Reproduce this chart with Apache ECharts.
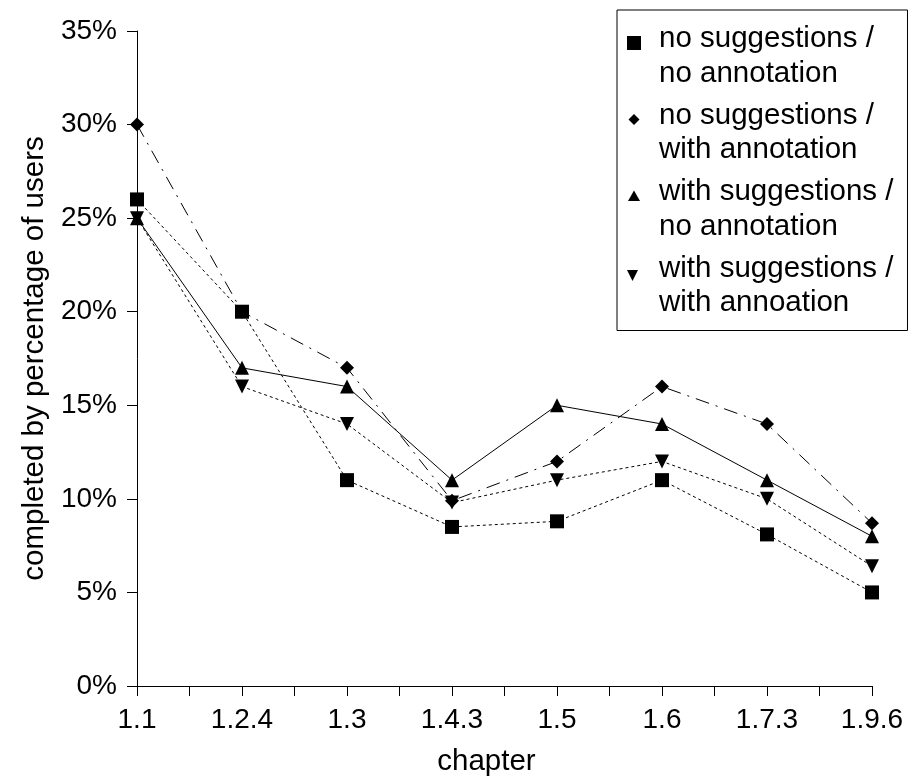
<!DOCTYPE html>
<html>
<head>
<meta charset="utf-8">
<script src="https://cdn.jsdelivr.net/npm/echarts@6/dist/echarts.min.js"></script>
<style>html,body{margin:0;padding:0;background:#fff}#c{width:911px;height:784px}</style>
</head>
<body>
<div id="c"></div>
<script>
const categories = ['1.1', '1.2.4', '1.3', '1.4.3', '1.5', '1.6', '1.7.3', '1.9.6'];
const seriesNames = [
  'no suggestions /\nno annotation',
  'no suggestions /\nwith annotation',
  'with suggestions /\nno annotation',
  'with suggestions /\nwith annoation'
];
const noSugNoAnn = [26, 20, 11, 8.5, 8.8, 11, 8.1, 5.0];
const noSugWithAnn = [30, 20, 17, 9.9, 12, 16, 14, 8.7];
const withSugNoAnn = [25, 17, 16, 11, 15, 14, 11, 8.0];
const withSugWithAnn = [25, 16, 14, 9.8, 11, 12, 10, 6.4];
const yTicks = [0, 5, 10, 15, 20, 25, 30, 35];

const FONT = 'Liberation Sans, Arial, sans-serif';
const pts = arr => arr.map((v, i) => [i, v]);
const ext = ' M0,0 M27,69';
const legendIcons = [
  'path://M0,14 L14,14 L14,28 L0,28 Z' + ext,
  'path://M7,15.5 L12.5,21 L7,26.5 L1.5,21 Z' + ext,
  'path://M7,15.5 L13,26 L1,26 Z' + ext,
  'path://M0,18.5 L11,18.5 L5.5,29.5 Z' + ext
];

const chart = echarts.init(document.getElementById('c'), null, {renderer: 'canvas'});
chart.setOption({
  animation: false,
  backgroundColor: '#fff',
  textStyle: {fontFamily: FONT, color: '#000'},
  grid: {left: 137, right: 39, top: 31, bottom: 98, containLabel: false},
  legend: {
    orient: 'vertical',
    left: 617, top: 10,
    itemWidth: 27, itemHeight: 69, itemGap: 7.5,
    padding: [12, 14, 10, 10],
    borderColor: '#000', borderWidth: 1,
    selectedMode: false,
    textStyle: {fontFamily: FONT, fontSize: 29.5, lineHeight: 34.5, color: '#000'},
    data: seriesNames.map((n, i) => ({name: n, icon: legendIcons[i]}))
  },
  xAxis: {
    type: 'value', min: 0, max: categories.length - 1, interval: 1,
    name: 'chapter', nameLocation: 'middle', nameGap: 61,
    nameTextStyle: {fontFamily: FONT, fontSize: 29.5, color: '#000', padding: [0, 36, 0, 0]},
    axisLine: {show: true, lineStyle: {color: '#000', width: 1}},
    axisTick: {show: true, length: 10, inside: false, lineStyle: {color: '#000'}},
    minorTick: {show: true, splitNumber: 2, length: 10, lineStyle: {color: '#000'}},
    splitLine: {show: false},
    axisLabel: {fontFamily: FONT, fontSize: 28, color: '#000', margin: 20,
      formatter: v => categories[Math.round(v)] || ''}
  },
  yAxis: {
    type: 'value', min: yTicks[0], max: yTicks[yTicks.length - 1], interval: 5,
    name: 'completed by percentage of users', nameLocation: 'middle', nameGap: 86, nameRotate: 90,
    nameTextStyle: {fontFamily: FONT, fontSize: 29.5, color: '#000'},
    axisLine: {show: true, lineStyle: {color: '#000', width: 1}},
    axisTick: {show: true, length: 10, inside: false, lineStyle: {color: '#000'}},
    splitLine: {show: false},
    axisLabel: {fontFamily: FONT, fontSize: 28, color: '#000', margin: 20, formatter: v => v + '%'}
  },
  series: [
    {name: seriesNames[0], type: 'line', data: pts(noSugNoAnn), symbol: 'rect', symbolSize: 14,
     itemStyle: {color: '#000'}, lineStyle: {color: '#000', width: 1, type: [3, 3]}, z: 3},
    {name: seriesNames[1], type: 'line', data: pts(noSugWithAnn), symbol: 'diamond', symbolSize: 14,
     itemStyle: {color: '#000'}, lineStyle: {color: '#000', width: 1, type: [14, 7, 2, 7]}, z: 2},
    {name: seriesNames[2], type: 'line', data: pts(withSugNoAnn), symbol: 'triangle', symbolSize: 14,
     itemStyle: {color: '#000'}, lineStyle: {color: '#000', width: 1, type: 'solid'}, z: 4},
    {name: seriesNames[3], type: 'line', data: pts(withSugWithAnn), symbol: 'triangle', symbolRotate: 180, symbolSize: 14,
     itemStyle: {color: '#000'}, lineStyle: {color: '#000', width: 1, type: [3, 3]}, z: 3}
  ]
});
</script>
</body>
</html>
